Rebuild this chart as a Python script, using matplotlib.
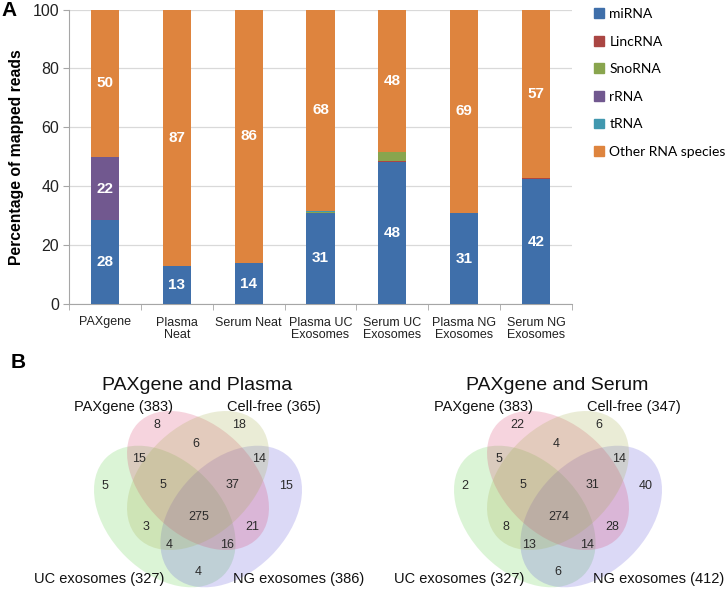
import numpy as np
import matplotlib
matplotlib.use('Agg')
import matplotlib.pyplot as plt
from matplotlib.patches import Ellipse, Patch

# ---- panel A data (percent of mapped reads) ----
samples = ['PAXgene', 'Plasma\nNeat', 'Serum Neat', 'Plasma UC\nExosomes',
           'Serum UC\nExosomes', 'Plasma NG\nExosomes', 'Serum NG\nExosomes']
mirna = [28.4, 12.9, 13.8, 30.9, 48.3, 30.8, 42.4]
lincrna = [0.0, 0.0, 0.0, 0.0, 0.2, 0.0, 0.3]
snorna = [0.0, 0.0, 0.0, 0.4, 3.0, 0.0, 0.0]
rrna = [21.6, 0.0, 0.0, 0.0, 0.2, 0.0, 0.0]
trna = [0.0, 0.0, 0.0, 0.3, 0.0, 0.0, 0.0]
other = [50.0, 87.1, 86.2, 68.4, 48.3, 69.2, 57.3]

series_names = ['miRNA', 'LincRNA', 'SnoRNA', 'rRNA', 'tRNA', 'Other RNA species']
series_colors = ['#3F6FAA', '#AA4643', '#89A54E', '#71588F', '#4198AF', '#DE843E']

# ---- panel B data (4-way venn counts) ----
plasma_sets = ['PAXgene (383)', 'Cell-free (365)', 'UC exosomes (327)', 'NG exosomes (386)']
plasma_counts = [8, 18, 6, 15, 14, 5, 5, 37, 15, 275, 3, 21, 4, 16, 4]
serum_sets = ['PAXgene (383)', 'Cell-free (347)', 'UC exosomes (327)', 'NG exosomes (412)']
serum_counts = [22, 6, 4, 5, 14, 2, 5, 31, 40, 274, 8, 28, 13, 14, 6]

# venn layout in pixel units, x relative to the venn centre line, y up
region_xy = [(-41, 171), (41, 171), (-2, 152), (-59, 137), (61, 137),
             (-93, 110), (-35, 111), (35, 111), (88, 110), (1, 79),
             (-52, 69), (54, 69), (-29, 51), (29, 51), (0, 24)]
set_label_xy = [(-75, 189), (76, 189), (-99, 17), (101, 17)]
# ellipses: centre, semi axes, angle, colour
ellipses = [((-33.2, 79.5), 83.0, 56.0, 135, '#5ECD48'),
            ((33.2, 79.5), 83.0, 56.0, 45, '#5E53D8'),
            ((0, 115.5), 83.0, 54.6, 136.5, '#D83D69'),
            ((0, 115.5), 83.0, 54.6, 43.5, '#A1AC48')]

W, H = 727, 596
fig = plt.figure(figsize=(W / 100, H / 100), dpi=100)
arial = 'Liberation Sans'


def px_axes(x0, y0, x1, y1):
    # pixel box (top-left origin) -> figure axes
    return fig.add_axes([x0 / W, 1 - y1 / H, (x1 - x0) / W, (y1 - y0) / H])


# ---------------- panel A ----------------
ax = px_axes(69, 9.5, 572, 304)
x = np.arange(len(samples))
bottom = np.zeros(len(samples))
all_series = [mirna, lincrna, snorna, rrna, trna, other]
for name, vals, col in zip(series_names, all_series, series_colors):
    vals = np.array(vals)
    ax.bar(x, vals, 0.39, bottom=bottom, color=col, label=name, zorder=3)
    for xi, b, v in zip(x, bottom, vals):
        if v >= 5:
            ax.text(xi, b + v / 2, str(int(round(v))), ha='center', va='center',
                    color='white', fontsize=11, fontweight='bold', family=arial, zorder=4)
    bottom += vals

ax.set_xlim(-0.5, len(samples) - 0.5)
ax.set_ylim(0, 100)
ax.set_yticks(range(0, 101, 20))
ax.set_xticks(x)
ax.set_xticklabels(samples, fontsize=9, family=arial, color='#222222', linespacing=1.0)
ax.set_xticks(np.arange(-0.5, len(samples)), minor=True)
ax.tick_params(axis='x', which='major', length=0, pad=9)
ax.tick_params(axis='x', which='minor', length=4, color='#A6A6A6')
ax.tick_params(axis='y', length=4, color='#A6A6A6', labelsize=11.5, labelcolor='#222222', pad=3)
for lab in ax.get_yticklabels():
    lab.set_family(arial)
ax.grid(axis='y', color='#D9D9D9', linewidth=0.9, zorder=0)
for s in ['top', 'right']:
    ax.spines[s].set_visible(False)
for s in ['left', 'bottom']:
    ax.spines[s].set_color('#A6A6A6')
ax.set_ylabel('Percentage of mapped reads', fontsize=11.3, fontweight='bold', family=arial,
              labelpad=6)

handles = [Patch(color=c) for c in series_colors]
fig.legend(handles, series_names, loc='upper left', bbox_to_anchor=(594 / W, 1 - 8 / H),
           frameon=False, prop={'family': 'Lato', 'size': 10}, handlelength=0.7,
           handleheight=0.7, handletextpad=0.4, labelspacing=1.12, borderpad=0, borderaxespad=0)

fig.text(9.5 / W, 1 - 10 / H, 'A', fontsize=15, fontweight='bold', family=arial,
         ha='center', va='center')
fig.text(18 / W, 1 - 362 / H, 'B', fontsize=15, fontweight='bold', family=arial,
         ha='center', va='center')


# ---------------- panel B ----------------
def venn(cx_px, title, sets, counts):
    # one data unit = one pixel; x measured from the venn centre line
    half = 168
    vx = px_axes(cx_px - half, 596 - 222, cx_px + half, 596)
    vx.set_xlim(-half, half)
    vx.set_ylim(0, 222)
    vx.axis('off')
    for (ex, ey), a, b, ang, col in ellipses:
        vx.add_patch(Ellipse((ex, ey), 2 * a, 2 * b, angle=ang, facecolor=col,
                             edgecolor='none', alpha=0.22))
    for (tx, ty), n in zip(region_xy, counts):
        vx.text(tx, ty, str(n), ha='center', va='center', fontsize=9, family=arial,
                color='#2a2a2a')
    for (tx, ty), s in zip(set_label_xy, sets):
        vx.text(tx, ty, s, ha='center', va='center', fontsize=10.5, family=arial,
                color='#111111', clip_on=False)
    vx.text(-1, 211, title, ha='center', va='center', fontsize=14, family=arial,
            color='#111111', clip_on=False)


venn(198, 'PAXgene and Plasma', plasma_sets, plasma_counts)
venn(558, 'PAXgene and Serum', serum_sets, serum_counts)

fig.savefig('out.png', dpi=100)
